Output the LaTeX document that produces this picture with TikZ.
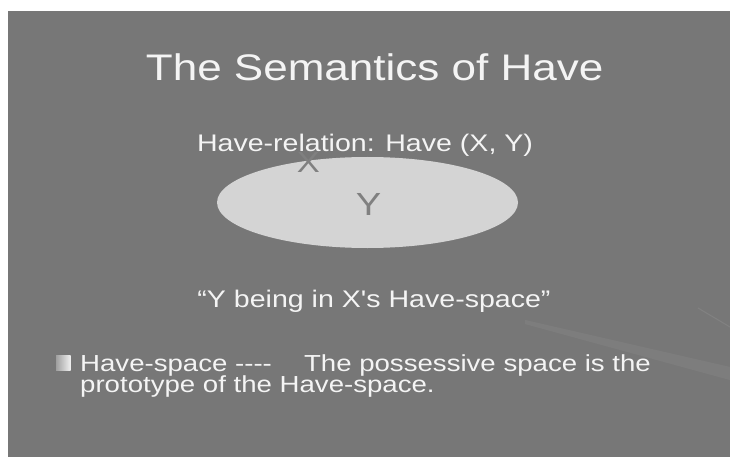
\documentclass[tikz,border=0pt]{standalone}
\usepackage{fontspec}
\setmainfont{Liberation Sans}
\newfontfamily\slidefont{Liberation Sans}
\usepackage{graphicx}
\definecolor{slidebg}{RGB}{119,119,119}
\definecolor{ellfill}{RGB}{212,212,212}
\definecolor{lettergray}{RGB}{128,128,128}
\definecolor{textwhite}{RGB}{244,244,244}
\tikzset{
  slidetext/.style={inner sep=0pt, outer sep=0pt, text=textwhite},
  lettertext/.style={inner sep=0pt, outer sep=0pt, text=lettergray},
}
\newcommand{\stretchx}[1]{\scalebox{1.19}[1]{#1}}
\begin{document}
\begin{tikzpicture}[x=1pt,y=-1pt]
\useasboundingbox (0,0) rectangle (730,457);
\fill[white] (0,0) rectangle (730,457);
\fill[slidebg] (8,11) rectangle (730,457);
% faint background streaks
\fill[white, opacity=0.05] (525,320) -- (730,367) -- (730,380) -- (525,324) -- cycle;
\draw[white, opacity=0.08, line width=1pt] (698,308) -- (730,327);
% title
\node[slidetext, anchor=base, font=\slidefont\fontsize{37}{40}\selectfont] (title) at (374.7,80.7) {\stretchx{The Semantics of Have}};
% relation line
\node[slidetext, anchor=base, font=\slidefont\fontsize{24}{28}\selectfont] (relation) at (365,152) {\stretchx{Have-relation: Have (X, Y)}};
% ellipse
\fill[ellfill] (367.5,202.5) ellipse [x radius=150.5, y radius=45.5];
\coordinate (ellc) at (367.5,202.5);
\node[lettertext, anchor=base, font=\slidefont\fontsize{29}{32}\selectfont] (xlabel) at (308.5,173) {\stretchx{X}};
\node[lettertext, anchor=base, font=\slidefont\fontsize{32}{36}\selectfont] (ylabel) at (368.5,215) {\stretchx{Y}};
% quote
\node[slidetext, anchor=base, font=\slidefont\fontsize{24}{28}\selectfont] (quote) at (374,307) {\stretchx{“Y being in X's Have-space”}};
% bullet
\shade[left color=gray!75, right color=white!88!gray] (56,355.5) rectangle (70.5,370);
\node[slidetext, anchor=base west, font=\slidefont\fontsize{23.2}{26}\selectfont] (line1) at (80.2,371.5) {\stretchx{Have-space -\kern0pt-\kern0pt-\kern0pt-\hspace{27pt}The possessive space is the}};
\node[slidetext, anchor=base west, font=\slidefont\fontsize{23.2}{26}\selectfont] (line2) at (80.2,392) {\stretchx{prototype of the Have-space.}};
\end{tikzpicture}
\end{document}
